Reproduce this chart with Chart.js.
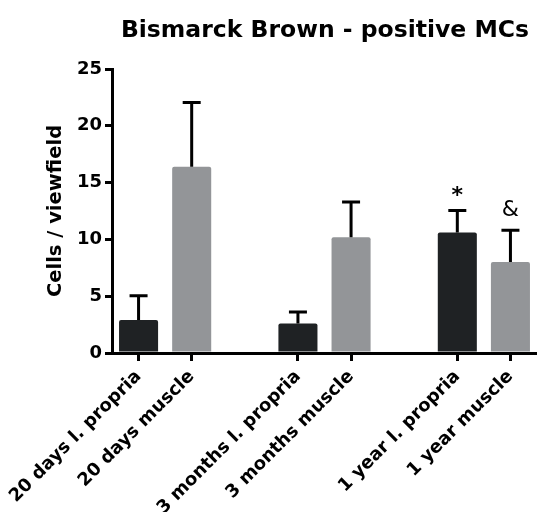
<!DOCTYPE html>
<html>
<head>
<meta charset="utf-8">
<script src="https://cdn.jsdelivr.net/npm/chart.js@4.4.1/dist/chart.umd.min.js"></script>
<style>
  html, body { margin: 0; padding: 0; background: #fff; }
</style>
</head>
<body>
<canvas id="chart" width="537" height="512"></canvas>
<script>
// Data (empty slots give the gaps between groups)
const categories = ['20 days l. propria', '20 days muscle', '', '3 months l. propria', '3 months muscle', '', '1 year l. propria', '1 year muscle'];
const means = [2.9, 16.4, null, 2.6, 10.2, null, 10.6, 8.0];
const errors = [2.15, 5.65, null, 1.0, 3.1, null, 1.95, 2.8];
const marks = ['', '', '', '', '', '', '*', '&'];
const yTicks = [0, 5, 10, 15, 20, 25];

const DARK = '#1f2224';
const GREY = '#939598';
const FONT = "'DejaVu Sans', 'Liberation Sans', Arial, sans-serif";

// colour by position inside the pair: l. propria dark, muscle grey
const barColors = categories.map(c => c.indexOf('muscle') >= 0 ? GREY : DARK);

// Title drawn over the whole canvas, centred like the original
const titlePlugin = {
    id: 'titlePlugin',
    afterDraw(chart) {
        const ctx = chart.ctx;
        ctx.save();
        ctx.font = 'bold 23.5px ' + FONT;
        ctx.fillStyle = '#000';
        ctx.textAlign = 'center';
        ctx.textBaseline = 'alphabetic';
        ctx.fillText('Bismarck Brown - positive MCs', 325, 37);
        ctx.restore();
    }
};

// One-sided error bars plus significance marks
const errorBarPlugin = {
    id: 'errorBars',
    afterDatasetsDraw(chart) {
        const ctx = chart.ctx;
        const yScale = chart.scales.y;
        const meta = chart.getDatasetMeta(0);
        ctx.save();
        ctx.strokeStyle = '#000';
        ctx.lineWidth = 3;
        meta.data.forEach((bar, i) => {
            if (means[i] == null) return;
            const yTop = yScale.getPixelForValue(means[i] + errors[i]);
            ctx.beginPath();
            ctx.moveTo(bar.x, bar.y);
            ctx.lineTo(bar.x, yTop);
            ctx.moveTo(bar.x - 9, yTop);
            ctx.lineTo(bar.x + 9, yTop);
            ctx.stroke();

            if (marks[i]) {
                ctx.font = (marks[i] === '*' ? 'bold 22px ' : '22px ') + FONT;
                ctx.fillStyle = '#000';
                ctx.textAlign = 'center';
                ctx.textBaseline = 'alphabetic';
                const m = ctx.measureText(marks[i]);
                ctx.fillText(marks[i], bar.x, yTop - 14 - m.actualBoundingBoxDescent);
            }
        });
        ctx.restore();
    }
};

new Chart(document.getElementById('chart'), {
    type: 'bar',
    data: {
        labels: categories,
        datasets: [{
            data: means,
            backgroundColor: barColors,
            borderWidth: 0,
            borderRadius: 2,
            borderSkipped: 'bottom',
            barPercentage: 0.735,
            categoryPercentage: 1.0
        }]
    },
    options: {
        responsive: false,
        devicePixelRatio: 1,
        animation: false,
        layout: { padding: { top: 69, right: 0, left: 0, bottom: 0 } },
        plugins: {
            legend: { display: false },
            tooltip: { enabled: false },
            title: { display: false }
        },
        scales: {
            x: {
                type: 'category',
                offset: true,
                grid: {
                    offset: false,
                    drawOnChartArea: false,
                    drawTicks: true,
                    tickLength: 8,
                    lineWidth: 3,
                    color: ctx => categories[ctx.index] ? '#000' : 'rgba(0,0,0,0)'
                },
                border: { color: '#000', width: 3 },
                ticks: {
                    autoSkip: false,
                    minRotation: 45,
                    maxRotation: 45,
                    padding: 5,
                    color: '#000',
                    font: { family: FONT, size: 18, weight: 'bold' }
                },
                afterFit(scale) { scale.height = 159; }
            },
            y: {
                min: 0,
                max: 25,
                afterBuildTicks(scale) { scale.ticks = yTicks.map(v => ({ value: v })); },
                grid: {
                    drawOnChartArea: false,
                    drawTicks: true,
                    tickLength: 7,
                    lineWidth: 3,
                    color: '#000'
                },
                border: { color: '#000', width: 3 },
                ticks: {
                    padding: 3,
                    color: '#000',
                    font: { family: FONT, size: 18, weight: 'bold' }
                },
                title: {
                    display: true,
                    text: 'Cells / viewfield',
                    color: '#000',
                    font: { family: FONT, size: 19.5, weight: 'bold' },
                    padding: { top: 44, bottom: 0 }
                },
                afterFit(scale) { scale.width = 112; }
            }
        }
    },
    plugins: [titlePlugin, errorBarPlugin]
});
</script>
</body>
</html>
